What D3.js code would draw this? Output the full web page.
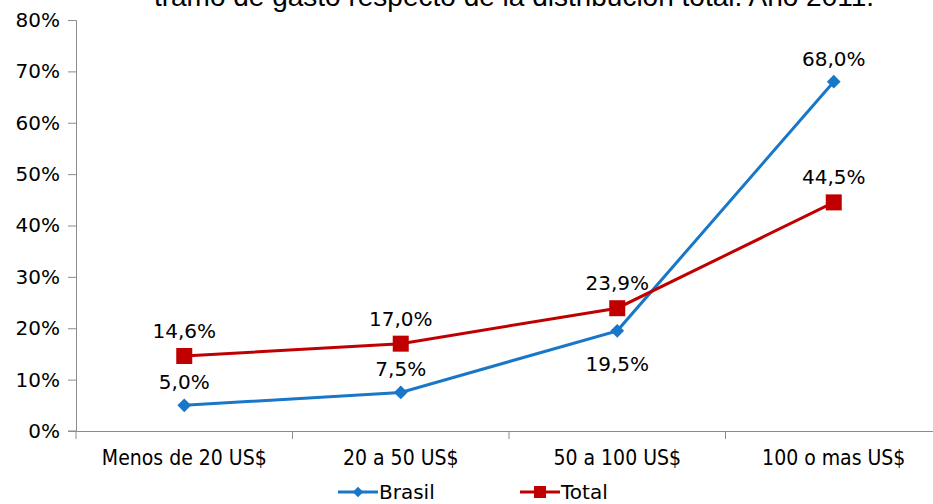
<!DOCTYPE html>
<html>
<head>
<meta charset="utf-8">
<script src="https://cdn.jsdelivr.net/npm/d3@7"></script>
<style>
  body { margin: 0; background: #fff; }
  svg { display: block; font-family: "DejaVu Sans", Verdana, sans-serif; }
</style>
</head>
<body>
<div id="chart"></div>
<script>
"use strict";

// data
const categories = ["Menos de 20 US$", "20 a 50 US$", "50 a 100 US$", "100 o mas US$"];
const brasil = [5.0, 7.5, 19.5, 68.0];
const total = [14.6, 17.0, 23.9, 44.5];
const yTicks = [0, 10, 20, 30, 40, 50, 60, 70, 80];
const brasilLabelPos = ["above", "above", "below", "above"];

const W = 933, H = 504;
const margin = {top: 20, right: -9, bottom: 73, left: 76},
      width = W - margin.left - margin.right,
      height = H - margin.top - margin.bottom;

const svg = d3.select("#chart")
  .append("svg")
  .attr("width", W)
  .attr("height", H);

// title, cut off by the top edge as in the source
svg.append("text")
  .attr("x", 514)
  .attr("y", 6)
  .attr("text-anchor", "middle")
  .style("font-size", "28px")
  .style("font-family", "'Liberation Sans', Arial, sans-serif")
  .attr("fill", "#000")
  .text("tramo de gasto respecto de la distribución total. Año 2011.");

const g = svg.append("g")
  .attr("transform", "translate(" + margin.left + "," + margin.top + ")");

const x = d3.scaleBand()
  .domain(categories)
  .range([0, width]);

const y = d3.scaleLinear()
  .domain([0, 80])
  .range([height, 0]);

const cx = d => x(d) + x.bandwidth() / 2;

// y axis
const yAxis = g.append("g")
  .call(d3.axisLeft(y)
    .tickValues(yTicks)
    .tickSize(8)
    .tickPadding(8)
    .tickFormat(d => d + "%"));
yAxis.selectAll("path, line").attr("stroke", "#8c8c8c");
yAxis.selectAll("text")
  .style("font-size", "20px")
  .style("font-family", "'DejaVu Sans', Verdana, sans-serif")
  .attr("fill", "#000");

// x axis
const xAxis = g.append("g")
  .attr("transform", "translate(0," + height + ")")
  .call(d3.axisBottom(x)
    .tickValues([])
    .tickSizeOuter(0));
xAxis.select("path").attr("stroke", "#8c8c8c");
xAxis.selectAll(".bnd")
  .data(categories.slice(1))
  .join("line")
  .attr("x1", d => x(d)).attr("x2", d => x(d))
  .attr("y1", 0).attr("y2", 8)
  .attr("stroke", "#8c8c8c");
xAxis.append("line")
  .attr("x1", -8).attr("x2", 0)
  .attr("stroke", "#8c8c8c");
xAxis.append("line")
  .attr("x1", 0).attr("x2", 0).attr("y1", 0).attr("y2", 8)
  .attr("stroke", "#8c8c8c");
xAxis.selectAll(".cat")
  .data(categories)
  .join("text")
  .attr("x", d => cx(d))
  .attr("y", 34)
  .attr("text-anchor", "middle")
  .style("font-size", "21px")
  .style("font-family", "'DejaVu Sans Condensed', 'Liberation Sans Narrow', sans-serif")
  .attr("fill", "#000")
  .text(d => d);

const line = d3.line()
  .x((d, i) => cx(categories[i]))
  .y(d => y(d));

const fmt = v => v.toFixed(1).replace(".", ",") + "%";

// Brasil series
g.append("path")
  .datum(brasil)
  .attr("fill", "none")
  .attr("stroke", "#1877c8")
  .attr("stroke-width", 3)
  .attr("d", line);

// Total series
g.append("path")
  .datum(total)
  .attr("fill", "none")
  .attr("stroke", "#c00000")
  .attr("stroke-width", 3)
  .attr("d", line);

g.selectAll(".bm")
  .data(brasil)
  .join("path")
  .attr("transform", (d, i) => "translate(" + cx(categories[i]) + "," + y(d) + ")")
  .attr("d", d3.symbol(d3.symbolDiamond2, 120))
  .attr("fill", "#1877c8");

g.selectAll(".tm")
  .data(total)
  .join("rect")
  .attr("x", (d, i) => cx(categories[i]) - 8)
  .attr("y", d => y(d) - 8)
  .attr("width", 16)
  .attr("height", 16)
  .attr("fill", "#c00000");

// data labels
g.selectAll(".bl")
  .data(brasil)
  .join("text")
  .attr("x", (d, i) => cx(categories[i]))
  .attr("y", (d, i) => brasilLabelPos[i] === "above" ? y(d) - 16 : y(d) + 40)
  .attr("text-anchor", "middle")
  .style("font-size", "20px")
  .attr("fill", "#000")
  .text(d => fmt(d));

g.selectAll(".tl")
  .data(total)
  .join("text")
  .attr("x", (d, i) => cx(categories[i]))
  .attr("y", d => y(d) - 18)
  .attr("text-anchor", "middle")
  .style("font-size", "20px")
  .attr("fill", "#000")
  .text(d => fmt(d));

// legend
const legend = svg.append("g").attr("transform", "translate(0,492)");
const items = [
  {name: "Brasil", color: "#1877c8", x: 338},
  {name: "Total", color: "#c00000", x: 520}
];
items.forEach(function(it) {
  const lg = legend.append("g").attr("transform", "translate(" + it.x + ",0)");
  lg.append("line")
    .attr("x1", 0).attr("x2", 40)
    .attr("stroke", it.color)
    .attr("stroke-width", 3);
  if (it.name === "Brasil") {
    lg.append("path")
      .attr("transform", "translate(20,0)")
      .attr("d", d3.symbol(d3.symbolDiamond2, 70))
      .attr("fill", it.color);
  } else {
    lg.append("rect")
      .attr("x", 14).attr("y", -6)
      .attr("width", 12).attr("height", 12)
      .attr("fill", it.color);
  }
  lg.append("text")
    .attr("x", 41)
    .attr("y", 7)
    .style("font-size", "20px")
    .attr("fill", "#000")
    .text(it.name);
});
</script>
</body>
</html>
